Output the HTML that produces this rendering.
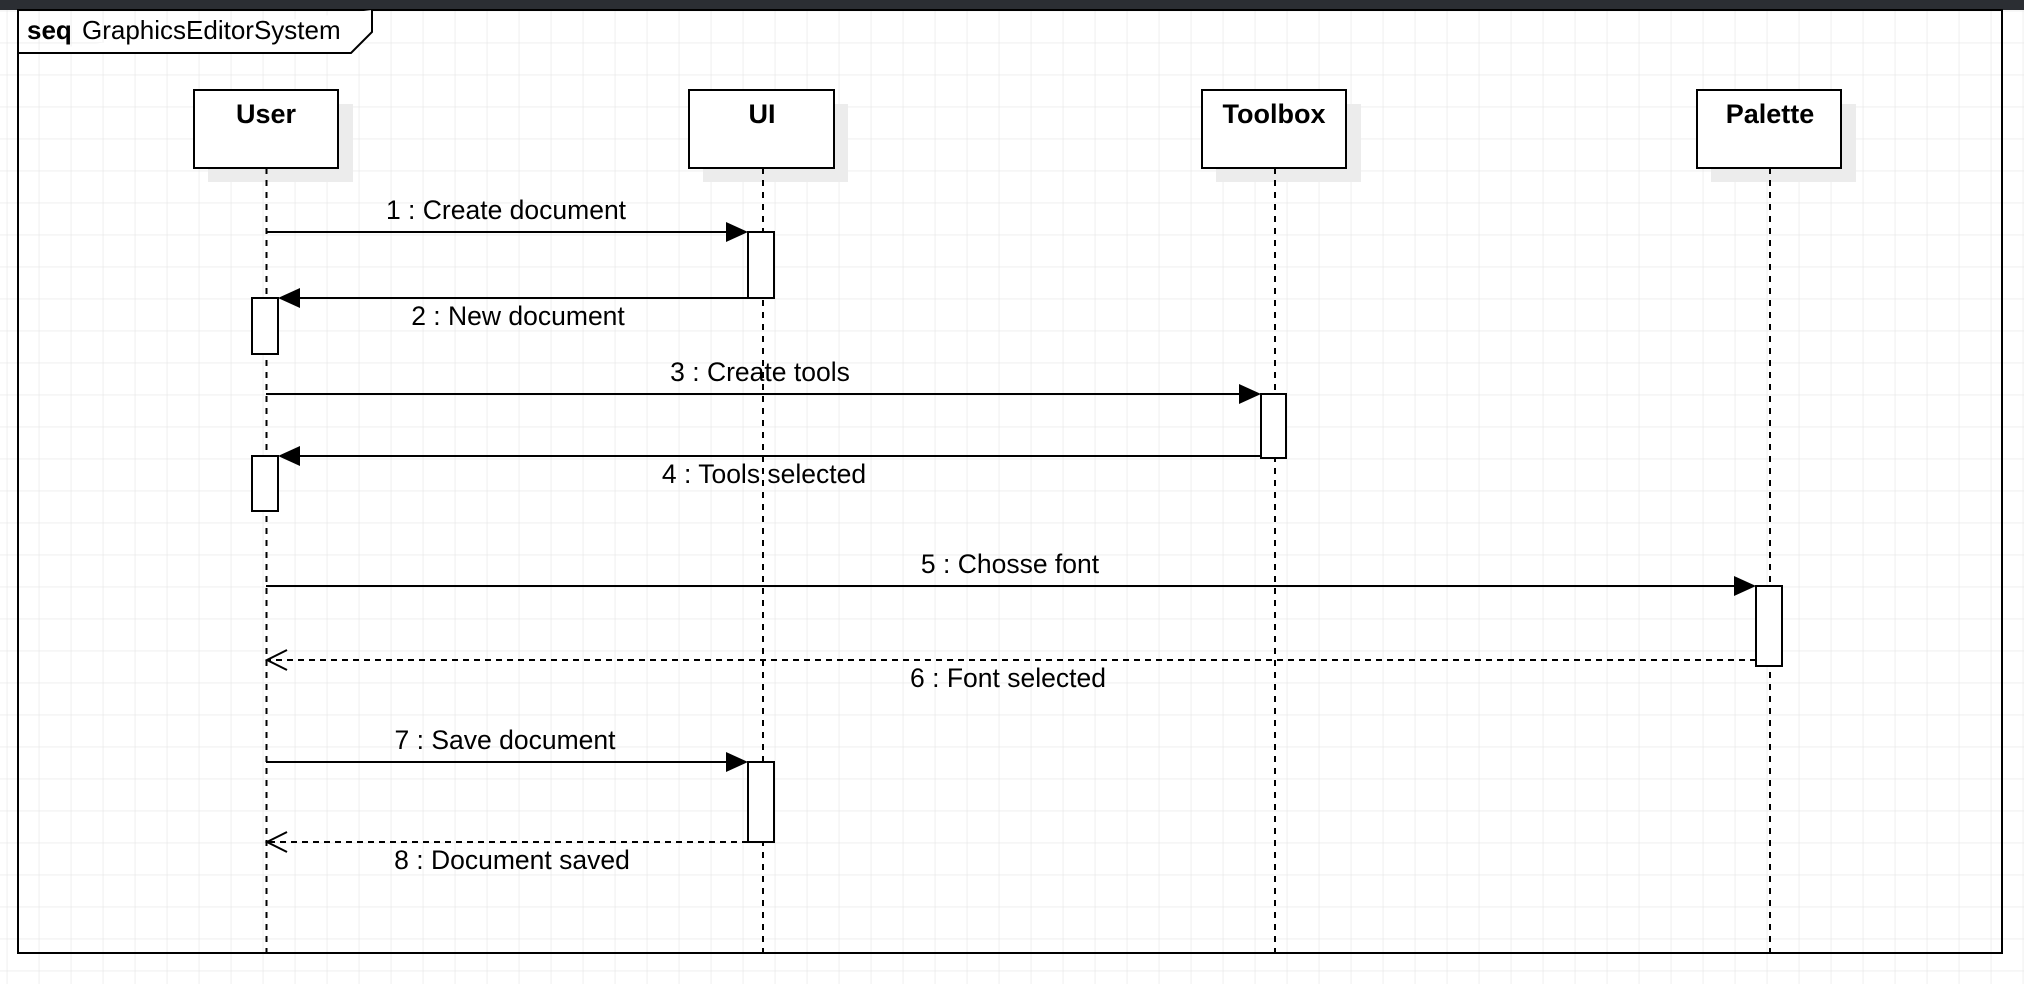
<!DOCTYPE html>
<html><head><meta charset="utf-8"><style>
html,body{margin:0;padding:0;background:#fff;}
svg{display:block;}
text{font-family:"Liberation Sans",Arial,sans-serif;fill:#000;}
</style></head><body>
<svg width="2024" height="984" xmlns="http://www.w3.org/2000/svg">
<defs>
<pattern id="g" x="6.7" y="10.6" width="32" height="32" patternUnits="userSpaceOnUse">
<path d="M0 0H32M0 0V32" stroke="#e9e9e9" stroke-width="1.5" fill="none"/>
</pattern>
</defs>
<rect width="2024" height="984" fill="#fff"/>
<rect width="2024" height="984" fill="url(#g)"/>
<rect x="0" y="0" width="2024" height="10" fill="#2b2e33"/>
<!-- frame -->
<rect x="18" y="10" width="1984" height="943" fill="none" stroke="#000" stroke-width="2"/>
<path d="M18 53H351L372 32V10" fill="#fff" stroke="#000" stroke-width="2"/>
<text x="27" y="39" font-size="26" font-weight="bold">seq</text>
<text x="82" y="39" font-size="26">GraphicsEditorSystem</text>

<!-- lifeline shadows & boxes -->
<g fill="#ececec">
<rect x="208" y="104" width="145" height="78"/>
<rect x="703" y="104" width="145" height="78"/>
<rect x="1216" y="104" width="145" height="78"/>
<rect x="1711" y="104" width="145" height="78"/>
</g>
<g fill="#fff" stroke="#000" stroke-width="2">
<rect x="194" y="90" width="144" height="78"/>
<rect x="689" y="90" width="145" height="78"/>
<rect x="1202" y="90" width="144" height="78"/>
<rect x="1697" y="90" width="144" height="78"/>
</g>
<g font-size="27" font-weight="bold" text-anchor="middle">
<text x="266" y="123">User</text>
<text x="762" y="123">UI</text>
<text x="1274" y="123">Toolbox</text>
<text x="1770" y="123">Palette</text>
</g>
<!-- lifelines -->
<g stroke="#000" stroke-width="2" stroke-dasharray="6,6">
<line x1="266.5" y1="168" x2="266.5" y2="953"/>
<line x1="763" y1="168" x2="763" y2="953"/>
<line x1="1275" y1="168" x2="1275" y2="953"/>
<line x1="1770" y1="168" x2="1770" y2="953"/>
</g>
<!-- activations -->
<g fill="#fff" stroke="#000" stroke-width="2">
<rect x="748" y="232" width="26" height="66"/>
<rect x="252" y="298" width="26" height="56"/>
<rect x="1261" y="394" width="25" height="64"/>
<rect x="252" y="456" width="26" height="55"/>
<rect x="1756" y="586" width="26" height="80"/>
<rect x="748" y="762" width="26" height="80"/>
</g>
<!-- messages -->
<g stroke="#000" stroke-width="2" fill="none">
<line x1="266" y1="232" x2="730" y2="232"/>
<line x1="748" y1="298" x2="295" y2="298"/>
<line x1="266" y1="394" x2="1243" y2="394"/>
<line x1="1261" y1="456" x2="295" y2="456"/>
<line x1="266" y1="586" x2="1738" y2="586"/>
<line x1="266" y1="762" x2="730" y2="762"/>
<line x1="1756" y1="660" x2="268" y2="660" stroke-dasharray="6,5"/>
<line x1="748" y1="842" x2="268" y2="842" stroke-dasharray="6,5"/>
<path d="M287 650L267 660L287 670"/>
<path d="M287 832L267 842L287 852"/>
</g>
<g fill="#000">
<path d="M748 232L726 222V242Z"/>
<path d="M278 298L300 288V308Z"/>
<path d="M1261 394L1239 384V404Z"/>
<path d="M278 456L300 446V466Z"/>
<path d="M1756 586L1734 576V596Z"/>
<path d="M748 762L726 752V772Z"/>
</g>
<g font-size="26.5" text-anchor="middle">
<text x="506" y="219">1 : Create document</text>
<text x="518" y="325">2 : New document</text>
<text x="760" y="381">3 : Create tools</text>
<text x="764" y="483">4 : Tools selected</text>
<text x="1010" y="573">5 : Chosse font</text>
<text x="1008" y="687">6 : Font selected</text>
<text x="505" y="749">7 : Save document</text>
<text x="512" y="869">8 : Document saved</text>
</g>
</svg>
</body></html>
